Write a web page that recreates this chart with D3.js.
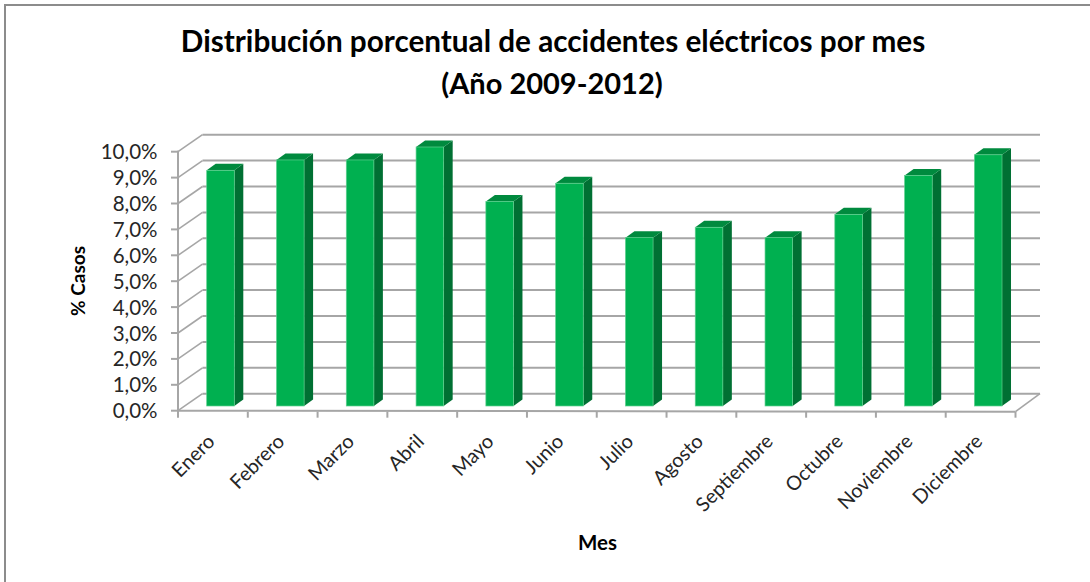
<!DOCTYPE html>
<html><head><meta charset="utf-8">
<script src="https://cdn.jsdelivr.net/npm/d3@7/dist/d3.min.js"></script>
<style>html,body{margin:0;padding:0;background:#fff}svg{display:block}text{font-family:Lato,"Open Sans",sans-serif}</style>
</head><body><svg id="c" width="1090" height="582"></svg>
<script>
const months=["Enero","Febrero","Marzo","Abril","Mayo","Junio","Julio","Agosto","Septiembre","Octubre","Noviembre","Diciembre"];
const percents=[9.1,9.5,9.5,10.0,7.9,8.6,6.5,6.9,6.5,7.4,8.9,9.7];
const yTicks=[0,1,2,3,4,5,6,7,8,9,10];
const titleLines=["Distribución porcentual de accidentes eléctricos por mes","(Año 2009-2012)"];
const xTitle="Mes", yTitle="% Casos";

const svg=d3.select("#c");
svg.append("path").attr("d","M1090,5H5V582").attr("fill","none").attr("stroke","#8c8c8c").attr("stroke-width",2);

const plotLeft=178,plotRight=1015.5,plotTop=151.7,plotBottom=410.7;
const wallDx=24.5,wallDy=-17;
const x=d3.scaleBand().domain(months).range([plotLeft,plotRight]);
const y=d3.scaleLinear().domain([0,10]).range([plotBottom,plotTop]);
const grid="#a6a6a6";
const g=svg.append("g");

yTicks.forEach(t=>{
  g.append("line").attr("x1",plotLeft+wallDx).attr("x2",plotRight+wallDx).attr("y1",y(t)+wallDy).attr("y2",y(t)+wallDy).attr("stroke",grid).attr("stroke-width",2);
  g.append("line").attr("x1",plotLeft).attr("x2",plotLeft+wallDx).attr("y1",y(t)).attr("y2",y(t)+wallDy).attr("stroke",grid).attr("stroke-width",1.6);
});
g.append("line").attr("x1",plotRight).attr("x2",plotRight+wallDx).attr("y1",plotBottom+1).attr("y2",plotBottom+wallDy).attr("stroke",grid).attr("stroke-width",1.6);
g.append("line").attr("x1",plotLeft).attr("x2",plotRight).attr("y1",plotBottom).attr("y2",plotBottom+1).attr("stroke",grid).attr("stroke-width",2);
g.append("line").attr("x1",plotLeft).attr("x2",plotLeft).attr("y1",plotTop-1).attr("y2",plotBottom+7).attr("stroke",grid).attr("stroke-width",2);
yTicks.forEach(t=>g.append("line").attr("x1",plotLeft-7).attr("x2",plotLeft).attr("y1",y(t)).attr("y2",y(t)).attr("stroke",grid).attr("stroke-width",2));
months.forEach(m=>{
  const px=x(m)+x.bandwidth();
  g.append("line").attr("x1",px).attr("x2",px).attr("y1",plotBottom+1).attr("y2",plotBottom+7).attr("stroke",grid).attr("stroke-width",2);
});

const barW=27.6,depthX=9,depthY=6.5,lift=4.7,inset=28.7;
const bars=g.selectAll("g.bar").data(months.map((m,i)=>({m,v:percents[i]}))).join("g").attr("class","bar");
bars.each(function(d){
  const s=d3.select(this);
  const x0=x(d.m)+inset, x1=x0+barW, yb=y(0)-lift, yt=y(d.v)-lift;
  const P=a=>a.map(p=>p.join(",")).join(" ");
  s.append("polygon").attr("points",P([[x1,yt],[x1+depthX,yt-depthY],[x1+depthX,yb-depthY],[x1,yb]])).attr("fill","#007033");
  s.append("polygon").attr("points",P([[x0,yt],[x0+depthX,yt-depthY],[x1+depthX,yt-depthY],[x1,yt]])).attr("fill","#008a3e");
  s.append("rect").attr("x",x0).attr("y",yt).attr("width",barW).attr("height",yb-yt).attr("fill","#00b050").attr("stroke","#5fd08f").attr("stroke-width",0.7);
});

yTicks.forEach(t=>svg.append("text").attr("x",157.5).attr("y",y(t)+7.5).attr("text-anchor","end").attr("font-size",20.5).attr("fill","#262626").text(d3.format(".1f")(t).replace(".",",")+"%"));
months.forEach(m=>{
  const cx=x(m)+x.bandwidth()/2+3;
  svg.append("text").attr("transform",`translate(${cx},${plotBottom+32}) rotate(-45)`).attr("text-anchor","end").attr("font-size",19.8).attr("fill","#262626").text(m);
});
svg.append("text").attr("x",553).attr("y",52).attr("text-anchor","middle").attr("font-size",29.7).attr("font-weight",700).attr("fill","#000").text(titleLines[0]);
svg.append("text").attr("x",552).attr("y",94).attr("text-anchor","middle").attr("font-size",29).attr("font-weight",700).attr("fill","#000").text(titleLines[1]);
svg.append("text").attr("x",597.5).attr("y",550).attr("text-anchor","middle").attr("font-size",20.5).attr("font-weight",700).attr("fill","#000").text(xTitle);
svg.append("text").attr("transform","translate(85,281) rotate(-90)").attr("text-anchor","middle").attr("font-size",19).attr("font-weight",700).attr("fill","#000").text(yTitle);
</script></body></html>
